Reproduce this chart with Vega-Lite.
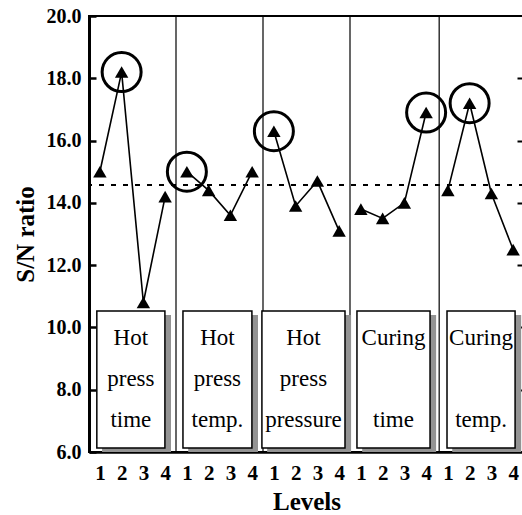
{
  "$schema": "https://vega.github.io/schema/vega-lite/v6.json",
  "autosize": {"type": "none"},
  "width": 435,
  "height": 436,
  "padding": {"left": 89, "top": 16, "right": 0, "bottom": 63},
  "background": "white",
  "config": {
    "view": {"stroke": "black", "strokeWidth": 2},
    "font": "Liberation Serif",
    "axis": {"grid": false, "domainColor": "black", "tickColor": "black", "labelColor": "black", "titleColor": "black", "labelFont": "Liberation Serif", "titleFont": "Liberation Serif"},
    "text": {"font": "Liberation Serif", "fontSize": 23, "align": "center", "baseline": "middle", "color": "black"}
  },
  "datasets": {
    "points": [
      {"factor": "Hot press time", "idx": 1, "level": 1, "sn": 15.0, "best": false},
      {"factor": "Hot press time", "idx": 2, "level": 2, "sn": 18.2, "best": true},
      {"factor": "Hot press time", "idx": 3, "level": 3, "sn": 10.8, "best": false},
      {"factor": "Hot press time", "idx": 4, "level": 4, "sn": 14.2, "best": false},
      {"factor": "Hot press temp.", "idx": 5, "level": 1, "sn": 15.0, "best": true},
      {"factor": "Hot press temp.", "idx": 6, "level": 2, "sn": 14.4, "best": false},
      {"factor": "Hot press temp.", "idx": 7, "level": 3, "sn": 13.6, "best": false},
      {"factor": "Hot press temp.", "idx": 8, "level": 4, "sn": 15.0, "best": false},
      {"factor": "Hot press pressure", "idx": 9, "level": 1, "sn": 16.3, "best": true},
      {"factor": "Hot press pressure", "idx": 10, "level": 2, "sn": 13.9, "best": false},
      {"factor": "Hot press pressure", "idx": 11, "level": 3, "sn": 14.7, "best": false},
      {"factor": "Hot press pressure", "idx": 12, "level": 4, "sn": 13.1, "best": false},
      {"factor": "Curing time", "idx": 13, "level": 1, "sn": 13.8, "best": false},
      {"factor": "Curing time", "idx": 14, "level": 2, "sn": 13.5, "best": false},
      {"factor": "Curing time", "idx": 15, "level": 3, "sn": 14.0, "best": false},
      {"factor": "Curing time", "idx": 16, "level": 4, "sn": 16.9, "best": true},
      {"factor": "Curing temp.", "idx": 17, "level": 1, "sn": 14.4, "best": false},
      {"factor": "Curing temp.", "idx": 18, "level": 2, "sn": 17.2, "best": true},
      {"factor": "Curing temp.", "idx": 19, "level": 3, "sn": 14.3, "best": false},
      {"factor": "Curing temp.", "idx": 20, "level": 4, "sn": 12.5, "best": false}
    ],
    "boxes": [
      {"factor": "Hot press time", "x1": 0.86, "x2": 3.99, "xs1": 1.1, "xs2": 4.27, "l1": "Hot", "l2": "press", "l3": "time"},
      {"factor": "Hot press temp.", "x1": 4.82, "x2": 7.99, "xs1": 5.06, "xs2": 8.27, "l1": "Hot", "l2": "press", "l3": "temp."},
      {"factor": "Hot press pressure", "x1": 8.45, "x2": 12.27, "xs1": 8.69, "xs2": 12.55, "l1": "Hot", "l2": "press", "l3": "pressure"},
      {"factor": "Curing time", "x1": 12.82, "x2": 16.18, "xs1": 13.06, "xs2": 16.46, "l1": "Curing", "l2": "", "l3": "time"},
      {"factor": "Curing temp.", "x1": 16.96, "x2": 20.09, "xs1": 17.2, "xs2": 20.37, "l1": "Curing", "l2": "", "l3": "temp."}
    ],
    "separators": [{"pos": 4.5}, {"pos": 8.5}, {"pos": 12.5}, {"pos": 16.6}]
  },
  "layer": [
    {
      "data": {"name": "separators"},
      "mark": {"type": "rule", "color": "black", "strokeWidth": 1.2},
      "encoding": {
        "x": {"field": "pos", "type": "quantitative", "scale": {"domain": [0.5, 20.5], "nice": false, "zero": false},
          "axis": {"orient": "bottom", "values": [1,2,3,4,5,6,7,8,9,10,11,12,13,14,15,16,17,18,19,20], "labelExpr": "((datum.value - 1) % 4) + 1", "ticks": false, "domainWidth": 2.5, "labelFontSize": 21, "labelFontWeight": "bold", "labelPadding": 10, "title": "Levels", "titleFontSize": 25, "titleFontWeight": "bold", "titlePadding": 6, "labelFlush": false, "labelOverlap": false}}
      }
    },
    {
      "data": {"name": "points"},
      "mark": {"type": "rule", "color": "black", "strokeWidth": 1.5, "strokeDash": [5, 7]},
      "encoding": {
        "y": {"datum": 14.57, "type": "quantitative", "axis": null}
      }
    },
    {
      "data": {"name": "boxes"},
      "mark": {"type": "rect", "fill": "#939393"},
      "encoding": {
        "x": {"field": "xs1", "type": "quantitative", "axis": {"orient": "bottom", "values": [1,2,3,4,5,6,7,8,9,10,11,12,13,14,15,16,17,18,19,20], "labelExpr": "((datum.value - 1) % 4) + 1", "ticks": false, "domainWidth": 2.5, "labelFontSize": 21, "labelFontWeight": "bold", "labelPadding": 10, "title": "Levels", "titleFontSize": 25, "titleFontWeight": "bold", "titlePadding": 6, "labelFlush": false, "labelOverlap": false}},
        "x2": {"field": "xs2"},
        "y": {"datum": 6.0, "type": "quantitative", "axis": null},
        "y2": {"datum": 10.4}
      }
    },
    {
      "data": {"name": "boxes"},
      "mark": {"type": "rect", "fill": "white", "stroke": "black", "strokeWidth": 1.5},
      "encoding": {
        "x": {"field": "x1", "type": "quantitative", "axis": {"orient": "bottom", "values": [1,2,3,4,5,6,7,8,9,10,11,12,13,14,15,16,17,18,19,20], "labelExpr": "((datum.value - 1) % 4) + 1", "ticks": false, "domainWidth": 2.5, "labelFontSize": 21, "labelFontWeight": "bold", "labelPadding": 10, "title": "Levels", "titleFontSize": 25, "titleFontWeight": "bold", "titlePadding": 6, "labelFlush": false, "labelOverlap": false}},
        "x2": {"field": "x2"},
        "y": {"datum": 6.13, "type": "quantitative", "axis": null},
        "y2": {"datum": 10.53}
      }
    },
    {
      "data": {"name": "boxes"},
      "transform": [{"calculate": "(datum.x1 + datum.x2) / 2", "as": "xc"}],
      "mark": {"type": "text"},
      "encoding": {
        "x": {"field": "xc", "type": "quantitative", "axis": {"orient": "bottom", "values": [1,2,3,4,5,6,7,8,9,10,11,12,13,14,15,16,17,18,19,20], "labelExpr": "((datum.value - 1) % 4) + 1", "ticks": false, "domainWidth": 2.5, "labelFontSize": 21, "labelFontWeight": "bold", "labelPadding": 10, "title": "Levels", "titleFontSize": 25, "titleFontWeight": "bold", "titlePadding": 6, "labelFlush": false, "labelOverlap": false}},
        "y": {"datum": 9.66, "type": "quantitative", "axis": null},
        "text": {"field": "l1"}
      }
    },
    {
      "data": {"name": "boxes"},
      "transform": [{"calculate": "(datum.x1 + datum.x2) / 2", "as": "xc"}],
      "mark": {"type": "text"},
      "encoding": {
        "x": {"field": "xc", "type": "quantitative", "axis": {"orient": "bottom", "values": [1,2,3,4,5,6,7,8,9,10,11,12,13,14,15,16,17,18,19,20], "labelExpr": "((datum.value - 1) % 4) + 1", "ticks": false, "domainWidth": 2.5, "labelFontSize": 21, "labelFontWeight": "bold", "labelPadding": 10, "title": "Levels", "titleFontSize": 25, "titleFontWeight": "bold", "titlePadding": 6, "labelFlush": false, "labelOverlap": false}},
        "y": {"datum": 8.36, "type": "quantitative", "axis": null},
        "text": {"field": "l2"}
      }
    },
    {
      "data": {"name": "boxes"},
      "transform": [{"calculate": "(datum.x1 + datum.x2) / 2", "as": "xc"}],
      "mark": {"type": "text"},
      "encoding": {
        "x": {"field": "xc", "type": "quantitative", "axis": {"orient": "bottom", "values": [1,2,3,4,5,6,7,8,9,10,11,12,13,14,15,16,17,18,19,20], "labelExpr": "((datum.value - 1) % 4) + 1", "ticks": false, "domainWidth": 2.5, "labelFontSize": 21, "labelFontWeight": "bold", "labelPadding": 10, "title": "Levels", "titleFontSize": 25, "titleFontWeight": "bold", "titlePadding": 6, "labelFlush": false, "labelOverlap": false}},
        "y": {"datum": 7.03, "type": "quantitative", "axis": null},
        "text": {"field": "l3"}
      }
    },
    {
      "data": {"name": "points"},
      "mark": {"type": "line", "color": "black", "strokeWidth": 1.6},
      "encoding": {
        "x": {"field": "idx", "type": "quantitative", "axis": {"orient": "bottom", "values": [1,2,3,4,5,6,7,8,9,10,11,12,13,14,15,16,17,18,19,20], "labelExpr": "((datum.value - 1) % 4) + 1", "ticks": false, "domainWidth": 2.5, "labelFontSize": 21, "labelFontWeight": "bold", "labelPadding": 10, "title": "Levels", "titleFontSize": 25, "titleFontWeight": "bold", "titlePadding": 6, "labelFlush": false, "labelOverlap": false}},
        "y": {"field": "sn", "type": "quantitative", "axis": null},
        "detail": {"field": "factor"}
      }
    },
    {
      "data": {"name": "points"},
      "mark": {"type": "point", "shape": "triangle-up", "filled": true, "color": "black", "size": 180, "opacity": 1},
      "encoding": {
        "x": {"field": "idx", "type": "quantitative", "axis": {"orient": "bottom", "values": [1,2,3,4,5,6,7,8,9,10,11,12,13,14,15,16,17,18,19,20], "labelExpr": "((datum.value - 1) % 4) + 1", "ticks": false, "domainWidth": 2.5, "labelFontSize": 21, "labelFontWeight": "bold", "labelPadding": 10, "title": "Levels", "titleFontSize": 25, "titleFontWeight": "bold", "titlePadding": 6, "labelFlush": false, "labelOverlap": false}},
        "y": {"field": "sn", "type": "quantitative", "scale": {"domain": [6, 20], "nice": false, "zero": false},
          "axis": {"orient": "left", "values": [6,8,10,12,14,16,18,20], "format": ".1f", "tickSize": -7, "tickWidth": 2.5, "domainWidth": 3, "labelFontSize": 20, "labelFontWeight": "bold", "labelPadding": 15, "title": "S/N ratio", "titleFontSize": 25, "titleFontWeight": "bold", "titlePadding": 8}}
      }
    },
    {
      "data": {"name": "points"},
      "transform": [{"filter": "datum.best"}],
      "mark": {"type": "point", "shape": "circle", "filled": false, "color": "black", "strokeWidth": 3, "size": 1521, "opacity": 1},
      "encoding": {
        "x": {"field": "idx", "type": "quantitative", "axis": {"orient": "bottom", "values": [1,2,3,4,5,6,7,8,9,10,11,12,13,14,15,16,17,18,19,20], "labelExpr": "((datum.value - 1) % 4) + 1", "ticks": false, "domainWidth": 2.5, "labelFontSize": 21, "labelFontWeight": "bold", "labelPadding": 10, "title": "Levels", "titleFontSize": 25, "titleFontWeight": "bold", "titlePadding": 6, "labelFlush": false, "labelOverlap": false}},
        "y": {"field": "sn", "type": "quantitative",
          "axis": {"orient": "right", "values": [8,10,12,14,16,18], "labels": false, "domain": false, "tickSize": -7, "tickWidth": 2, "title": null}}
      }
    }
  ],
  "resolve": {"axis": {"y": "independent"}}
}
